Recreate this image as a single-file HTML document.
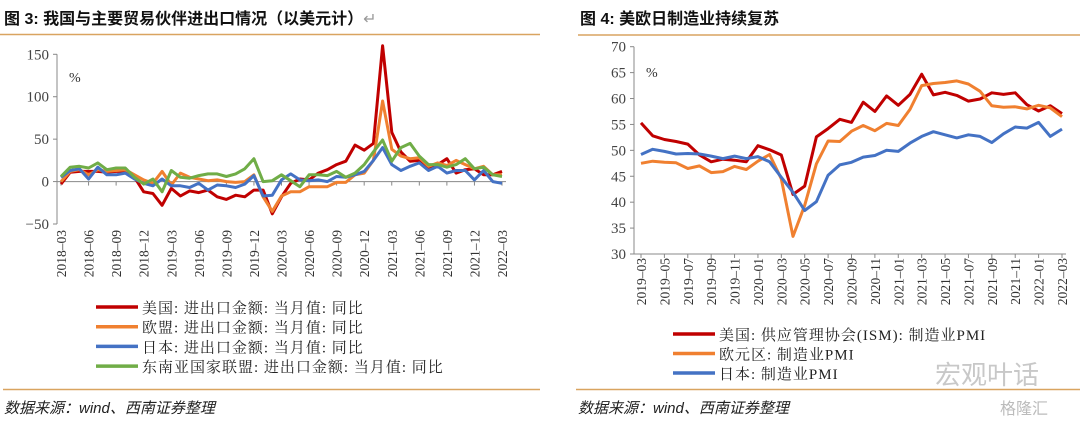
<!DOCTYPE html>
<html><head><meta charset="utf-8"><style>
body{margin:0;background:#fff;width:1080px;height:422px;overflow:hidden;font-family:"Liberation Serif","Noto Serif CJK SC",serif}
svg{display:block}
</style></head><body>
<svg id="s" width="1080" height="422" xmlns="http://www.w3.org/2000/svg">
<text x="4" y="24" font-size="16" font-weight="bold" fill="#111" font-family="Liberation Sans,Noto Sans CJK SC,sans-serif">图 3: 我国与主要贸易伙伴进出口情况（以美元计）<tspan fill="#999" font-weight="normal">↵</tspan></text>
<text x="580" y="24" font-size="16" font-weight="bold" fill="#111" font-family="Liberation Sans,Noto Sans CJK SC,sans-serif">图 4: 美欧日制造业持续复苏</text>
<line x1="0" y1="34.5" x2="540" y2="34.5" stroke="#d9a460" stroke-width="1.5"/>
<line x1="578" y1="35" x2="1080" y2="35" stroke="#d9a460" stroke-width="1.5"/>
<line x1="3" y1="389.5" x2="540" y2="389.5" stroke="#d9a460" stroke-width="1.5"/>
<line x1="576" y1="389.5" x2="1080" y2="389.5" stroke="#d9a460" stroke-width="1.5"/>
<text x="4" y="413" font-size="15" font-style="italic" fill="#222" font-family="Liberation Sans,Noto Sans CJK SC,sans-serif">数据来源：wind、西南证券整理</text>
<text x="578" y="413" font-size="15" font-style="italic" fill="#222" font-family="Liberation Sans,Noto Sans CJK SC,sans-serif">数据来源：wind、西南证券整理</text>
<text x="935" y="384" font-size="26" fill="#c8c8c8" font-family="Noto Sans CJK SC,sans-serif">宏观叶话</text>
<text x="1000" y="414" font-size="16" fill="#bbb" font-family="Noto Sans CJK SC,sans-serif">格隆汇</text>
<g id="L"></g><g id="R"></g>
</svg>
<script>
const leftDates=[];for(let i=0;i<49;i++){const m=(2+i)%12+1,y=2018+Math.floor((2+i)/12);leftDates.push(y+'-'+String(m).padStart(2,'0'));}
const usTrade=[-3,11,12,12,12,11,12,12,5,-12,-14,-28,-8,-17,-11,-13,-10,-18,-21,-16,-18,-10,-10,-38,-18,-2,3,2,10,14,20,24,43,37,45,160,58,35,24,25,17,20,27,10,14,15,8,8,12];
const euTrade=[0,12,14,8,14,12,13,14,8,2,-2,12,-4,10,5,3,1,2,0,-1,0,8,-18,-35,-17,-12,-12,-6,-6,-6,-1,-1,8,10,25,95,38,30,27,28,18,22,19,25,20,15,18,8,8];
const jpTrade=[5,13,15,3,17,8,8,10,3,-2,-5,3,-5,-5,-7,-2,-10,-4,-5,-7,-3,7,-17,-16,2,9,2,1,2,0,6,5,8,12,25,40,20,13,18,22,13,18,10,13,13,2,13,0,-2];
const aseanTrade=[6,17,18,16,22,14,16,16,5,-3,3,-12,13,5,4,7,9,9,6,9,15,27,0,1,8,1,-6,8,8,7,12,5,10,20,35,49,24,40,45,30,20,20,17,20,27,15,17,8,6];
const leftTicks=[-50,0,50,100,150];
const leftNames=['美国: 进出口金额: 当月值: 同比','欧盟: 进出口金额: 当月值: 同比','日本: 进出口金额: 当月值: 同比','东南亚国家联盟: 进出口金额: 当月值: 同比'];
const rightDates=[];for(let i=0;i<37;i++){const m=(2+i)%12+1,y=2019+Math.floor((2+i)/12);rightDates.push(y+'-'+String(m).padStart(2,'0'));}
const usPMI=[55.3,52.8,52.1,51.7,51.2,49.1,47.8,48.3,48.1,47.8,50.9,50.1,49.1,41.5,43.1,52.6,54.2,56.0,55.4,59.3,57.5,60.5,58.7,60.8,64.7,60.7,61.2,60.6,59.5,59.9,61.1,60.8,61.1,58.8,57.6,58.6,57.1];
const euPMI=[47.5,47.9,47.7,47.6,46.5,47.0,45.7,45.9,46.9,46.3,47.9,49.2,44.5,33.4,39.4,47.4,51.8,51.7,53.7,54.8,53.8,55.2,54.8,57.9,62.5,62.9,63.1,63.4,62.8,61.4,58.6,58.3,58.4,58.0,58.7,58.2,56.5];
const jpPMI=[49.2,50.2,49.8,49.3,49.4,49.3,48.9,48.4,48.9,48.4,48.8,47.8,44.8,41.9,38.4,40.1,45.2,47.2,47.7,48.7,49.0,50.0,49.8,51.4,52.7,53.6,53.0,52.4,53.0,52.7,51.5,53.2,54.5,54.3,55.4,52.7,54.1];
const rightTicks=[30,35,40,45,50,55,60,65,70];
const rightNames=['美国: 供应管理协会(ISM): 制造业PMI','欧元区: 制造业PMI','日本: 制造业PMI'];
const colors=['#c00000','#f08030','#4472c4','#70ad47'];
const NS='http://www.w3.org/2000/svg';
function mk(p,t,a){const e=document.createElementNS(NS,t);for(const k in a)e.setAttribute(k,a[k]);p.appendChild(e);return e;}
function chart(g,o){
 const x=i=>o.x0+(o.x1-o.x0)*i/(o.n-1), y=v=>o.yb+(o.yt-o.yb)*(v-o.vmin)/(o.vmax-o.vmin);
 let e=mk(g,'line',{x1:o.ax,y1:y(o.vmax),x2:o.ax,y2:y(o.vmin),stroke:'#888'});
 
 const zy=y(o.base);
 e=mk(g,'line',{x1:o.ax,y1:zy,x2:o.x1+4,y2:zy,stroke:'#888'});
 
 o.ticks.forEach(t=>{mk(g,'line',{x1:o.ax-4,y1:y(t),x2:o.ax,y2:y(t),stroke:'#888'});
  e=mk(g,'text',{x:o.ax-8,y:y(t)+5,'text-anchor':'end','font-size':15,fill:'#444'});e.textContent=o.tfmt(t);
  });
 e=mk(g,'text',{x:o.ax+12,y:o.pctY,'font-size':14,fill:'#333'});e.textContent='%';
 
 for(let i=0;i<o.n;i+=o.step){const xx=x(i);
  mk(g,'line',{x1:xx,y1:zy,x2:xx,y2:zy+4,stroke:'#888'});
  e=mk(g,'text',{transform:`translate(${xx+5},${o.ly}) rotate(-90)`,'text-anchor':'end','font-size':13.5,fill:'#333'});
  e.textContent=o.dates[i].replace('-','\u2013');
  }
 o.series.forEach((s,k)=>{const d=s.map((v,i)=>(i?'L':'M')+x(i).toFixed(1)+','+y(v).toFixed(1)).join('');
  e=mk(g,'path',{d:d,fill:'none',stroke:colors[k],'stroke-width':3,'stroke-linejoin':'round'});
  });
 o.names.forEach((nm,k)=>{const yy=o.legY+k*o.legDy;
  e=mk(g,'line',{x1:o.legX,y1:yy,x2:o.legX+42,y2:yy,stroke:colors[k],'stroke-width':3.5});
  
  e=mk(g,'text',{x:o.legX+46,y:yy+6,'font-size':15,fill:'#222','letter-spacing':1});e.textContent=nm;
  });
}
chart(document.getElementById('L'),{x0:61,x1:502,ax:57,n:49,yb:224,yt:54.3,vmin:-50,vmax:150,base:0,ticks:leftTicks,tfmt:t=>t<0?'\u2212'+(-t):''+t,pctY:82,dates:leftDates,step:3,ly:230,series:[usTrade,euTrade,jpTrade,aseanTrade],names:leftNames,legX:96,legY:307,legDy:19.7});
chart(document.getElementById('R'),{x0:641,x1:1062,ax:634,n:37,yb:254,yt:46.7,vmin:30,vmax:70,base:30,ticks:rightTicks,tfmt:t=>''+t,pctY:77,dates:rightDates,step:2,ly:258,series:[usPMI,euPMI,jpPMI],names:rightNames,legX:673,legY:334,legDy:19.5});
</script>
</body></html>
